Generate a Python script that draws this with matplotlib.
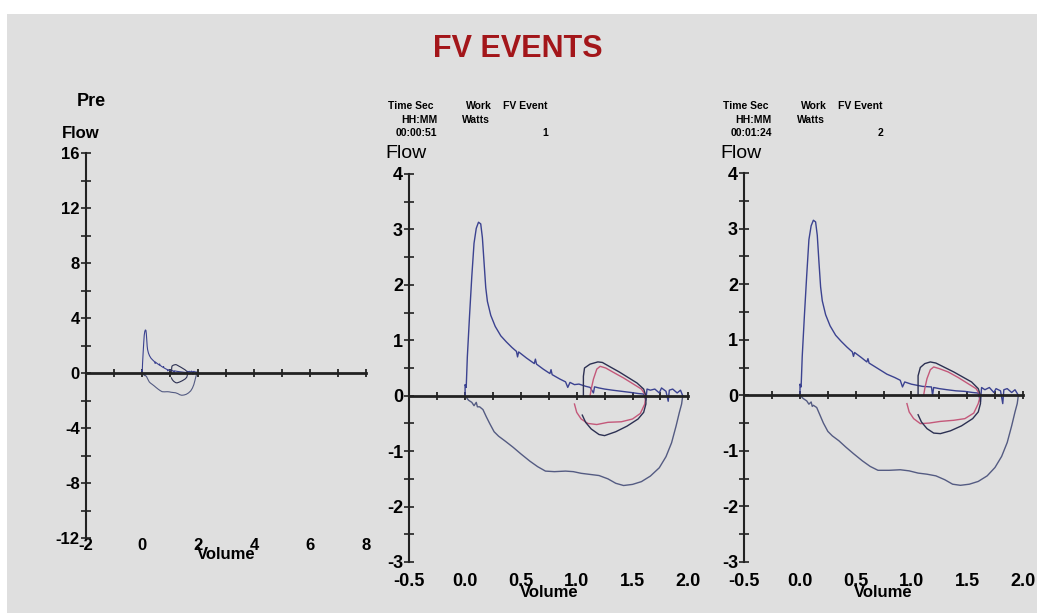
import matplotlib
matplotlib.use('Agg')
import matplotlib.pyplot as plt
from matplotlib.patches import Rectangle
from matplotlib.ticker import MultipleLocator, FormatStrFormatter

plt.rcParams['font.family'] = ['Liberation Sans', 'DejaVu Sans']
plt.rcParams['axes.unicode_minus'] = False

# ---- data ----
# event 1: expiratory (upper) and inspiratory (lower) limbs
exp1_vol = [0.0, 0.0, 0.01, 0.02, 0.04, 0.06, 0.08, 0.10, 0.12, 0.14, 0.155, 0.17, 0.185,
            0.20, 0.23, 0.27, 0.32, 0.37, 0.42, 0.46, 0.47, 0.48, 0.55, 0.62, 0.63, 0.64,
            0.70, 0.76, 0.77, 0.78, 0.85, 0.90, 0.92, 0.94, 0.98, 1.02, 1.08, 1.12, 1.15,
            1.16, 1.20, 1.25, 1.32, 1.40, 1.48, 1.55, 1.60, 1.62, 1.63, 1.66, 1.70, 1.74,
            1.76, 1.80, 1.82, 1.83, 1.86, 1.90, 1.93, 1.95]
exp1_flow = [-0.02, 0.2, 0.15, 0.7, 1.45, 2.15, 2.75, 3.02, 3.13, 3.1, 2.85, 2.4, 1.95,
             1.7, 1.45, 1.25, 1.08, 0.97, 0.87, 0.80, 0.70, 0.79, 0.68, 0.58, 0.66, 0.57,
             0.48, 0.40, 0.47, 0.38, 0.30, 0.25, 0.15, 0.24, 0.20, 0.21, 0.17, 0.15, 0.05,
             0.16, 0.14, 0.12, 0.10, 0.08, 0.06, 0.04, 0.03, -0.08, 0.12, 0.10, 0.12, 0.05,
             0.14, 0.08, -0.10, 0.10, 0.12, 0.05, 0.10, 0.0]
insp1_vol = [1.95, 1.94, 1.92, 1.89, 1.85, 1.80, 1.74, 1.66, 1.58, 1.50, 1.42, 1.35, 1.28,
             1.20, 1.12, 1.04, 0.97, 0.90, 0.80, 0.72, 0.65, 0.58, 0.50, 0.43, 0.36, 0.30,
             0.26, 0.22, 0.19, 0.16, 0.13, 0.11, 0.10, 0.08, 0.06, 0.03, 0.0]
insp1_flow = [0.0, -0.15, -0.3, -0.55, -0.85, -1.1, -1.3, -1.45, -1.55, -1.6, -1.62, -1.58,
              -1.5, -1.44, -1.42, -1.40, -1.37, -1.36, -1.37, -1.36, -1.28, -1.18, -1.05,
              -0.93, -0.82, -0.73, -0.65, -0.5, -0.38, -0.25, -0.2, -0.2, -0.12, -0.18,
              -0.12, -0.08, 0.0]
tidal1_vol = [1.06, 1.06, 1.07, 1.12, 1.19, 1.23, 1.30, 1.38, 1.46, 1.54, 1.60, 1.62, 1.62,
              1.60, 1.55, 1.45, 1.35, 1.25, 1.20, 1.13, 1.08, 1.05]
tidal1_flow = [0.0, 0.35, 0.5, 0.57, 0.61, 0.60, 0.52, 0.43, 0.33, 0.23, 0.12, 0.0, -0.15,
               -0.3, -0.42, -0.55, -0.65, -0.72, -0.70, -0.6, -0.48, -0.35]
pre1_vol = [0.98, 1.0, 1.04, 1.10, 1.18, 1.28, 1.40, 1.50, 1.57, 1.61, 1.62, 1.58, 1.50,
            1.42, 1.33, 1.26, 1.21, 1.18, 1.15, 1.13, 1.12]
pre1_flow = [-0.15, -0.3, -0.42, -0.50, -0.52, -0.48, -0.47, -0.42, -0.32, -0.15, 0.0,
             0.12, 0.22, 0.32, 0.42, 0.50, 0.53, 0.48, 0.3, 0.12, 0.0]

# event 2
exp2_vol = [0.0, 0.0, 0.01, 0.02, 0.04, 0.06, 0.08, 0.10, 0.12, 0.14, 0.155, 0.17, 0.185,
            0.20, 0.23, 0.27, 0.32, 0.37, 0.42, 0.47, 0.48, 0.49, 0.55, 0.60, 0.61, 0.62,
            0.70, 0.78, 0.85, 0.90, 0.92, 0.94, 1.00, 1.05, 1.10, 1.18, 1.19, 1.20, 1.25,
            1.32, 1.40, 1.48, 1.55, 1.60, 1.62, 1.63, 1.66, 1.70, 1.74, 1.76, 1.80, 1.82,
            1.83, 1.86, 1.90, 1.93, 1.96]
exp2_flow = [-0.02, 0.2, 0.15, 0.7, 1.45, 2.15, 2.8, 3.05, 3.15, 3.12, 2.88, 2.4, 1.95,
             1.7, 1.45, 1.25, 1.08, 0.97, 0.87, 0.78, 0.70, 0.77, 0.68, 0.60, 0.66, 0.58,
             0.48, 0.38, 0.32, 0.27, 0.15, 0.24, 0.20, 0.18, 0.16, 0.15, 0.0, 0.14, 0.12,
             0.10, 0.08, 0.07, 0.05, 0.04, -0.12, 0.14, 0.10, 0.14, 0.05, 0.12, 0.08,
             -0.15, 0.10, 0.12, 0.05, 0.10, 0.0]
insp2_vol = [1.96, 1.95, 1.93, 1.90, 1.86, 1.81, 1.75, 1.68, 1.60, 1.52, 1.44, 1.37, 1.30,
             1.22, 1.14, 1.06, 0.98, 0.90, 0.80, 0.70, 0.63, 0.56, 0.48, 0.41, 0.35, 0.29,
             0.25, 0.21, 0.18, 0.15, 0.12, 0.11, 0.10, 0.08, 0.06, 0.03, 0.0]
insp2_flow = [0.0, -0.15, -0.3, -0.55, -0.85, -1.1, -1.3, -1.45, -1.55, -1.6, -1.62, -1.6,
              -1.52, -1.45, -1.42, -1.40, -1.36, -1.34, -1.35, -1.35, -1.28, -1.18, -1.05,
              -0.93, -0.82, -0.73, -0.65, -0.5, -0.36, -0.22, -0.18, -0.2, -0.12, -0.16,
              -0.10, -0.06, 0.0]
tidal2_vol = [1.06, 1.06, 1.08, 1.12, 1.17, 1.22, 1.30, 1.38, 1.46, 1.54, 1.60, 1.62, 1.62,
              1.60, 1.55, 1.45, 1.35, 1.26, 1.20, 1.14, 1.09, 1.06]
tidal2_flow = [0.0, 0.35, 0.5, 0.57, 0.60, 0.58, 0.50, 0.42, 0.33, 0.24, 0.12, 0.0, -0.15,
               -0.3, -0.42, -0.55, -0.64, -0.69, -0.68, -0.6, -0.48, -0.35]
pre2_vol = [0.96, 0.98, 1.02, 1.08, 1.16, 1.26, 1.38, 1.48, 1.56, 1.60, 1.62, 1.58, 1.50,
            1.42, 1.33, 1.25, 1.20, 1.17, 1.14, 1.12, 1.11]
pre2_flow = [-0.15, -0.3, -0.42, -0.51, -0.50, -0.47, -0.45, -0.42, -0.32, -0.15, 0.0,
             0.12, 0.22, 0.32, 0.42, 0.48, 0.51, 0.46, 0.3, 0.12, 0.0]

event_times = ['00:00:51', '00:01:24']
event_numbers = ['1', '2']

W, H = 1037, 613
BLUE = '#3b4290'
GREY_BLUE = '#545b82'
DARK = '#2c3052'
PINK = '#c4587a'


def style_axes(ax, xmin, xmax, ymin, ymax, xmaj, xmin_step, ymaj, ymin_step, xfmt, size, lpad):
    ax.set_xlim(xmin, xmax)
    ax.set_ylim(ymin, ymax)
    ax.set_facecolor('none')
    ax.spines['top'].set_visible(False)
    ax.spines['right'].set_visible(False)
    ax.spines['bottom'].set_position(('data', 0))
    ax.spines['bottom'].set_linewidth(2.0)
    ax.spines['bottom'].set_color('#222222')
    ax.spines['left'].set_linewidth(1.5)
    ax.spines['left'].set_color('#222222')
    ax.xaxis.set_major_locator(MultipleLocator(xmin_step))
    ax.yaxis.set_major_locator(MultipleLocator(ymaj))
    ax.yaxis.set_minor_locator(MultipleLocator(ymin_step))
    ax.tick_params(axis='x', which='both', direction='inout', length=6, width=1.3,
                   labelbottom=False, color='#222222')
    ax.tick_params(axis='y', which='both', direction='inout', length=7, width=1.2,
                   labelsize=size, pad=1, color='#222222')
    for t in ax.get_yticklabels():
        t.set_fontweight('bold')
    sec = ax.secondary_xaxis('bottom')
    sec.spines['bottom'].set_visible(False)
    sec.xaxis.set_major_locator(MultipleLocator(xmaj))
    sec.xaxis.set_major_formatter(FormatStrFormatter(xfmt))
    sec.tick_params(length=0, labelsize=size, pad=lpad)
    for t in sec.get_xticklabels():
        t.set_fontweight('bold')
    sec.set_xlabel('Volume', fontsize=12, fontweight='bold', labelpad=-4)
    return sec


fig = plt.figure(figsize=(W / 100, H / 100), dpi=100)
fig.patch.set_facecolor('white')
fig.add_artist(Rectangle((7 / W, 0), 1 - 7 / W, 1 - 14 / H, transform=fig.transFigure,
                         facecolor='#dfdfdf', edgecolor='none', zorder=-10))

# axes placed from pixel measurements of the reference
ax_pre = fig.add_axes([86 / W, 75 / H, 280 / W, 385 / H])
ax_e1 = fig.add_axes([409.3 / W, 51 / H, 279 / W, 388 / H])
ax_e2 = fig.add_axes([744.3 / W, 51 / H, 278.5 / W, 389 / H])

style_axes(ax_pre, -2, 8, -12, 16, 2, 1, 4, 2, '%d', 12, 0)
ax_pre.plot(insp1_vol, insp1_flow, color=GREY_BLUE, lw=0.8)
ax_pre.plot(exp1_vol, exp1_flow, color=BLUE, lw=0.8)
ax_pre.plot(tidal1_vol, tidal1_flow, color=DARK, lw=0.8)

for ax, ev in [(ax_e1, (exp1_vol, exp1_flow, insp1_vol, insp1_flow, tidal1_vol, tidal1_flow, pre1_vol, pre1_flow)),
               (ax_e2, (exp2_vol, exp2_flow, insp2_vol, insp2_flow, tidal2_vol, tidal2_flow, pre2_vol, pre2_flow))]:
    style_axes(ax, -0.5, 2.0, -3, 4, 0.5, 0.25, 1, 0.5, '%.1f', 13, 8)
    ax.plot(ev[2], ev[3], color=GREY_BLUE, lw=1.0)
    ax.plot(ev[0], ev[1], color=BLUE, lw=1.0)
    ax.plot(ev[6], ev[7], color=PINK, lw=1.0)
    ax.plot(ev[4], ev[5], color=DARK, lw=1.0)

# titles and labels
fig.text(518 / W, 1 - 49 / H, 'FV EVENTS', color='#a3161a', fontsize=22, fontweight='bold',
         ha='center', va='center')
fig.text(91 / W, 1 - 101 / H, 'Pre', fontsize=13, fontweight='bold', ha='center', va='center')
fig.text(81 / W, 1 - 133 / H, 'Flow', fontsize=12, fontweight='bold', ha='center', va='center')

for k, off in enumerate([0, 335]):
    fig.text((406 + off) / W, 1 - 153 / H, 'Flow', fontsize=14, ha='center', va='center')
    hdr = dict(fontsize=7.5, fontweight='bold', va='center')
    fig.text((388 + off) / W, 1 - 106 / H, 'Time Sec', ha='left', **hdr)
    fig.text((437 + off) / W, 1 - 120 / H, 'HH:MM', ha='right', **hdr)
    fig.text((437 + off) / W, 1 - 133 / H, event_times[k], ha='right', **hdr)
    fig.text((492 + off) / W, 1 - 106 / H, 'Work', ha='right', **hdr)
    fig.text((462 + off) / W, 1 - 120 / H, 'Watts', ha='left', **hdr)
    fig.text((503 + off) / W, 1 - 106 / H, 'FV Event', ha='left', **hdr)
    fig.text((548 + off) / W, 1 - 133 / H, event_numbers[k], ha='right', **hdr)

fig.savefig('out.png', dpi=100, facecolor=fig.get_facecolor())
